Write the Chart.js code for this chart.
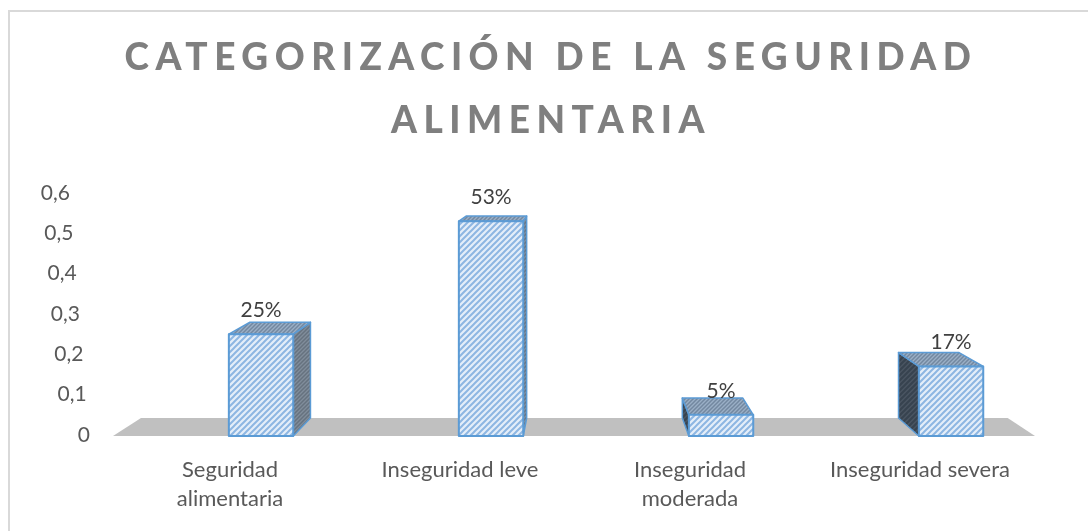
<!DOCTYPE html>
<html>
<head>
<meta charset="utf-8">
<script src="https://cdn.jsdelivr.net/npm/chart.js@4/dist/chart.umd.min.js"></script>
<style>
  html, body { margin: 0; padding: 0; background: #ffffff; }
  #c { display: block; }
</style>
</head>
<body>
<canvas id="c" width="1088" height="531"></canvas>
<script>
// ---- data ----
const categories = [['Seguridad', 'alimentaria'], 'Inseguridad leve', ['Inseguridad', 'moderada'], 'Inseguridad severa'];
const values = [0.25, 0.53, 0.05, 0.17];
const dataLabels = ['25%', '53%', '5%', '17%'];
const yTickLabels = ['0', '0,1', '0,2', '0,3', '0,4', '0,5', '0,6'];
const titleLines = ['CATEGORIZACIÓN DE LA SEGURIDAD', 'ALIMENTARIA'];

// ---- style ----
const FONT = 'Lato, "Open Sans", sans-serif';
const DEPTH = 0.06;           // perspective depth factor
const SHIFT_FRAC = 0.135;     // bar offset in category widths (3D rotation)

function makePattern(bg, fg, size, lw) {
  const c = document.createElement('canvas');
  c.width = size; c.height = size;
  const g = c.getContext('2d');
  g.fillStyle = bg; g.fillRect(0, 0, size, size);
  g.strokeStyle = fg; g.lineWidth = lw; g.lineCap = 'square';
  g.beginPath();
  g.moveTo(0, size); g.lineTo(size, 0);
  g.moveTo(-size / 2, size / 2); g.lineTo(size / 2, -size / 2);
  g.moveTo(size / 2, size * 1.5); g.lineTo(size * 1.5, size / 2);
  g.stroke();
  return g;
}
let patterns = null;
function getPatterns(ctx) {
  if (patterns) return patterns;
  const mk = (bg, fg, s, lw) => ctx.createPattern(makePattern(bg, fg, s, lw).canvas, 'repeat');
  patterns = {
    front: mk('#e4eef9', '#8db6e2', 6, 2),
    top: mk('#9aafc6', '#7388a0', 4, 1.5),
    right: mk('#808d9b', '#66727f', 4, 1.5),
    left: mk('#4a5562', '#37434f', 5, 2)
  };
  return patterns;
}

const frame = {
  id: 'frame',
  beforeDraw(chart) {
    const ctx = chart.ctx;
    ctx.save();
    ctx.fillStyle = '#ffffff';
    ctx.fillRect(0, 0, chart.width, chart.height);
    ctx.strokeStyle = '#d9d9d9';
    ctx.lineWidth = 2;
    ctx.strokeRect(9, 11, chart.width + 20, chart.height + 20);
    ctx.restore();
    ctx.letterSpacing = '6.5px';
  },
  beforeDatasetsDraw(chart) {
    chart.ctx.letterSpacing = '0px';
  }
};

function vanish(chart) {
  const ca = chart.chartArea;
  return { x: (ca.left + ca.right) / 2 + 5, y: ca.top - 57 };
}
function toBack(p, vp) {
  return { x: p.x + DEPTH * (vp.x - p.x), y: p.y + DEPTH * (vp.y - p.y) };
}
function poly(ctx, pts, fill, stroke, lw) {
  ctx.beginPath();
  ctx.moveTo(pts[0].x, pts[0].y);
  for (let i = 1; i < pts.length; i++) ctx.lineTo(pts[i].x, pts[i].y);
  ctx.closePath();
  if (fill) { ctx.fillStyle = fill; ctx.fill(); }
  if (stroke) { ctx.strokeStyle = stroke; ctx.lineWidth = lw; ctx.lineJoin = 'round'; ctx.stroke(); }
}

const bars3d = {
  id: 'bars3d',
  beforeDatasetsDraw(chart) {
    const ctx = chart.ctx;
    const ca = chart.chartArea;
    const vp = vanish(chart);
    const y0 = chart.scales.y.getPixelForValue(0) + 1;
    const fl = { x: ca.left - 2, y: y0 }, fr = { x: ca.right, y: y0 };
    ctx.save();
    poly(ctx, [fl, fr, toBack(fr, vp), toBack(fl, vp)], '#c0c0c0', null, 0);
    ctx.restore();
  },
  afterDatasetsDraw(chart) {
    const ctx = chart.ctx;
    const p = getPatterns(ctx);
    const vp = vanish(chart);
    const meta = chart.getDatasetMeta(0);
    const xs = chart.scales.x;
    const catW = (xs.right - xs.left) / categories.length;
    const shift = catW * SHIFT_FRAC;
    ctx.save();
    meta.data.forEach((el, i) => {
      const cx = el.x + shift;
      const w = el.width;
      const top = el.y, base = el.base + 1;
      const fTL = { x: cx - w / 2, y: top }, fTR = { x: cx + w / 2, y: top };
      const fBL = { x: cx - w / 2, y: base }, fBR = { x: cx + w / 2, y: base };
      const bTL = toBack(fTL, vp), bTR = toBack(fTR, vp);
      const bBL = toBack(fBL, vp), bBR = toBack(fBR, vp);
      const edge = '#5b9bd5';
      if (cx > vp.x) {
        poly(ctx, [fTL, fBL, bBL, bTL], p.left, edge, 1.5);
      } else {
        poly(ctx, [fTR, fBR, bBR, bTR], p.right, edge, 1.5);
      }
      poly(ctx, [fTL, fTR, bTR, bTL], p.top, edge, 1.5);
      poly(ctx, [fTL, fTR, fBR, fBL], p.front, edge, 2);
      ctx.fillStyle = '#404040';
      ctx.font = '21px ' + FONT;
      ctx.textAlign = 'center';
      ctx.textBaseline = 'middle';
      ctx.fillText(dataLabels[i], cx, top - 24);
    });
    ctx.restore();
  },
  afterDraw(chart) {
    const ctx = chart.ctx;
    const ys = chart.scales.y;
    const ca = chart.chartArea;
    ctx.save();
    ctx.letterSpacing = '0px';
    ctx.fillStyle = '#595959';
    ctx.font = '21px ' + FONT;
    ctx.textAlign = 'right';
    ctx.textBaseline = 'middle';
    ys.ticks.forEach((t, i) => {
      const frac = (t.value - ys.min) / (ys.max - ys.min);
      const x = ca.left - 25 - 20 * frac;
      ctx.fillText(yTickLabels[i], x, ys.getPixelForValue(t.value));
    });
    ctx.restore();
  }
};

new Chart(document.getElementById('c'), {
  type: 'bar',
  data: {
    labels: categories,
    datasets: [{
      data: values,
      backgroundColor: 'rgba(0,0,0,0)',
      borderWidth: 0,
      barPercentage: 0.28,
      categoryPercentage: 1
    }]
  },
  options: {
    responsive: false,
    animation: false,
    devicePixelRatio: 1,
    layout: { padding: { left: 14, right: 0, top: 0, bottom: 0 } },
    plugins: {
      legend: { display: false },
      tooltip: { enabled: false },
      title: {
        display: true,
        text: titleLines,
        color: '#7f7f7f',
        font: { family: FONT, size: 37, weight: '900', lineHeight: '63px' },
        padding: { top: 27, bottom: 40 }
      }
    },
    scales: {
      x: {
        grid: { display: false, drawTicks: false },
        border: { display: false },
        ticks: {
          color: '#595959',
          font: { family: FONT, size: 22, lineHeight: '29px' },
          padding: 20,
          maxRotation: 0,
          autoSkip: false,
          z: 1
        },
        afterFit(s) { s.height = 96; }
      },
      y: {
        min: 0, max: 0.6,
        grid: { display: false },
        border: { display: false },
        ticks: { display: false, stepSize: 0.1 },
        afterFit(s) { s.width = 101; }
      },
      y2: {
        type: 'linear',
        position: 'right',
        grid: { display: false },
        border: { display: false },
        ticks: { display: false },
        afterFit(s) { s.width = 53; }
      }
    }
  },
  plugins: [frame, bars3d]
});
</script>
</body>
</html>
